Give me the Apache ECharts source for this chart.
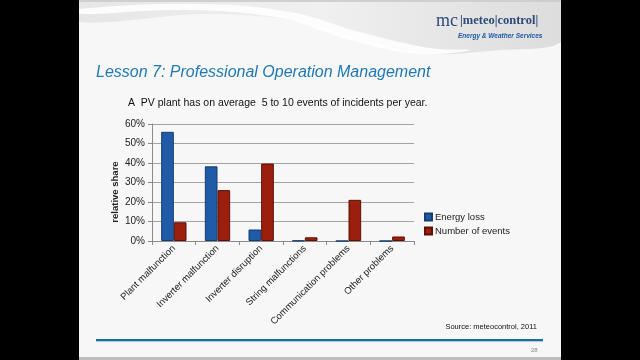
<!DOCTYPE html>
<html>
<head>
<meta charset="utf-8">
<script src="https://cdn.jsdelivr.net/npm/echarts@6/dist/echarts.min.js"></script>
<style>html,body{margin:0;padding:0;background:#000;}#c{width:640px;height:360px;}</style>
</head>
<body>
<div id="c"></div>
<script>
const categories = ['Plant malfunction', 'Inverter malfunction', 'Inverter disruption', 'String malfunctions', 'Communication problems', 'Other problems'];
const energyLoss = [56, 38.3, 5.9, 0.2, 0, 0];
const numberOfEvents = [9.6, 26.1, 39.7, 1.9, 21.1, 2.3];
const yTicks = [0, 10, 20, 30, 40, 50, 60];

const chart = echarts.init(document.getElementById('c'), null, {renderer: 'canvas'});
const font = 'Liberation Sans, Arial, sans-serif';
chart.setOption({
  backgroundColor: '#f7f7f7',
  animation: false,
  textStyle: {fontFamily: font},
  grid: {left: 152, right: 226, top: 124, bottom: 119, containLabel: false},
  legend: {
    orient: 'vertical', left: 424, top: 212, padding: 0, itemWidth: 7, itemHeight: 7, itemGap: 4,
    icon: 'rect',
    textStyle: {fontSize: 9.5, color: '#222', fontFamily: font, padding: [0, 0, 0, -2]},
    data: ['Energy loss', 'Number of events']
  },
  xAxis: {
    type: 'category', data: categories,
    axisLine: {lineStyle: {color: '#8a8a8a'}},
    axisTick: {show: true, length: 4, lineStyle: {color: '#8a8a8a'}},
    axisLabel: {rotate: 45, interval: 0, fontSize: 9.5, color: '#222', margin: 6, fontFamily: font}
  },
  yAxis: {
    type: 'value', min: yTicks[0], max: yTicks[yTicks.length - 1], interval: 10,
    axisLine: {show: true, lineStyle: {color: '#8a8a8a'}},
    axisTick: {show: true, length: 4, lineStyle: {color: '#8a8a8a'}},
    axisLabel: {formatter: '{value}%', fontSize: 10, color: '#222', margin: 7, fontFamily: font},
    splitLine: {lineStyle: {color: '#a3a3a3', width: 1}}
  },
  series: [
    {name: 'Energy loss', type: 'bar', data: energyLoss, barGap: '0%', barCategoryGap: '42%',
     itemStyle: {color: '#1f5ba6', borderColor: '#143d70', borderWidth: 1}},
    {name: 'Number of events', type: 'bar', data: numberOfEvents, barGap: '0%', barCategoryGap: '42%',
     itemStyle: {color: '#9c1f0e', borderColor: '#5c1007', borderWidth: 1}}
  ],
  graphic: [
    {type: 'polygon', z: -1, shape: {smooth: 0.3, points: [[79,0],[561,0],[561,42],[500,50],[430,54],[360,40],[290,20],[200,14],[79,22]]},
     style: {fill: {type: 'linear', x: 0, y: 0, x2: 1, y2: 0, colorStops: [{offset: 0, color: '#e6e6e6'}, {offset: 0.5, color: '#f0f0f0'}, {offset: 1, color: '#dcdcdc'}]}}},
    {type: 'polygon', z: -1, shape: {smooth: 0.4, points: [[79,9],[200,4],[290,12],[360,32],[430,48],[470,50],[420,54],[350,40],[280,18],[180,10],[79,14]]},
     style: {fill: 'rgba(255,255,255,0.85)'}},
    {type: 'rect', z: -1, shape: {x: 79, y: 0, width: 482, height: 2}, style: {fill: '#cfcfcf'}},
    {type: 'rect', z: 10, shape: {x: 0, y: 0, width: 79, height: 360}, style: {fill: '#000'}},
    {type: 'rect', z: 10, shape: {x: 561, y: 0, width: 79, height: 360}, style: {fill: '#000'}},
    {type: 'text', left: 436, top: 12, style: {text: 'mc', fill: '#2b4a7a', font: '18px "Liberation Serif", serif'}},
    {type: 'text', left: 460, top: 14, style: {text: '|meteo|control|', fill: '#2b4a7a', font: 'bold 12.5px "Liberation Serif", serif'}},
    {type: 'text', left: 458, top: 33, style: {text: 'Energy & Weather Services', fill: '#1f5aa6', font: 'italic bold 6.5px "Liberation Sans", sans-serif'}},
    {type: 'text', left: 96, top: 65, style: {text: 'Lesson 7: Professional Operation Management', fill: '#2179b3', font: 'italic 16px "Liberation Sans", Arial, sans-serif'}},
    {type: 'text', left: 128, top: 98, style: {text: 'A  PV plant has on average  5 to 10 events of incidents per year.', fill: '#111', font: '10.5px "Liberation Sans", Arial, sans-serif'}},
    {type: 'text', x: 115, y: 192, rotation: Math.PI / 2,
     style: {text: 'relative share', fill: '#222', font: 'bold 9.5px "Liberation Sans", Arial, sans-serif', align: 'center', verticalAlign: 'middle'}},
    {type: 'text', right: 103, top: 323, style: {text: 'Source: meteocontrol, 2011', fill: '#111', font: '7.5px "Liberation Sans", Arial, sans-serif'}},
    {type: 'rect', shape: {x: 96, y: 339, width: 447, height: 2}, style: {fill: '#1f6e9e'}},
    {type: 'rect', shape: {x: 96, y: 341, width: 447, height: 1}, style: {fill: '#9fd0e6'}},
    {type: 'text', left: 531, top: 347, style: {text: '28', fill: '#888', font: '6px "Liberation Sans", Arial, sans-serif'}},
    {type: 'rect', shape: {x: 79, y: 357, width: 482, height: 3}, style: {fill: '#bdbdbd'}}
  ]
});
</script>
</body>
</html>
